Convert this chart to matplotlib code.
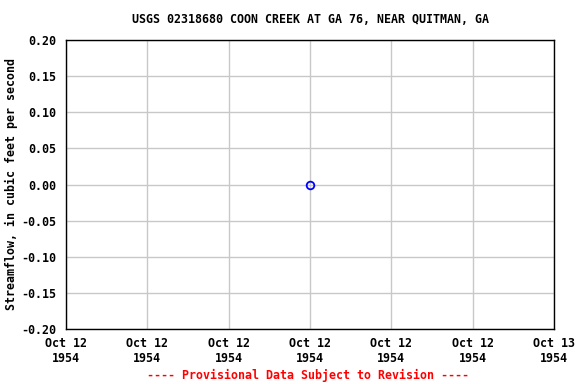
import matplotlib
matplotlib.use("Agg")
import matplotlib.pyplot as plt
import matplotlib.dates as mdates
from datetime import datetime, timedelta

title = "USGS 02318680 COON CREEK AT GA 76, NEAR QUITMAN, GA"
ylabel = "Streamflow, in cubic feet per second"
dates = [datetime(1954, 10, 12, 12, 0)]
values = [0.0]
yticks = [-0.20, -0.15, -0.10, -0.05, 0.00, 0.05, 0.10, 0.15, 0.20]
xstart = datetime(1954, 10, 12, 0, 0)
xend = datetime(1954, 10, 13, 0, 0)
xtick_labels = ["Oct 12\n1954"] * 6 + ["Oct 13\n1954"]

font = "DejaVu Sans Mono"
fs = 8.4
fig = plt.figure(figsize=(5.76, 3.84), dpi=100)
ax = fig.add_axes([66/576, 1 - 329/384, (554 - 66)/576, (329 - 40)/384])

ax.plot(dates, values, linestyle="none", marker="o", markersize=5.5,
        markerfacecolor="none", markeredgecolor="blue", markeredgewidth=1.3, zorder=3)

ax.set_xlim(xstart, xend)
ax.set_ylim(-0.20, 0.20)
xticks = [xstart + timedelta(hours=4 * i) for i in range(7)]
ax.set_xticks(xticks)
ax.set_xticklabels(xtick_labels, fontfamily=font, fontweight="bold", fontsize=fs, linespacing=1.15)
ax.set_yticks(yticks)
ax.set_yticklabels([f"{v:.2f}" for v in yticks], fontfamily=font, fontweight="bold", fontsize=fs)
ax.grid(True, color="#c8c8c8", linewidth=1)
ax.tick_params(axis="x", length=0, pad=6)
ax.tick_params(axis="y", length=0, pad=7)
for s in ax.spines.values():
    s.set_linewidth(1)
    s.set_color("black")

ax.set_title(title, fontfamily=font, fontweight="bold", fontsize=fs, pad=12)
ax.set_ylabel(ylabel, fontfamily=font, fontweight="bold", fontsize=fs)
ax.yaxis.set_label_coords(-(66 - 18) / 488, 0.5)
fig.text(308/576, 1 - 375/384, "---- Provisional Data Subject to Revision ----",
         ha="center", va="center", color="red", fontfamily=font, fontweight="bold", fontsize=fs)

fig.savefig("out.png", dpi=100)
